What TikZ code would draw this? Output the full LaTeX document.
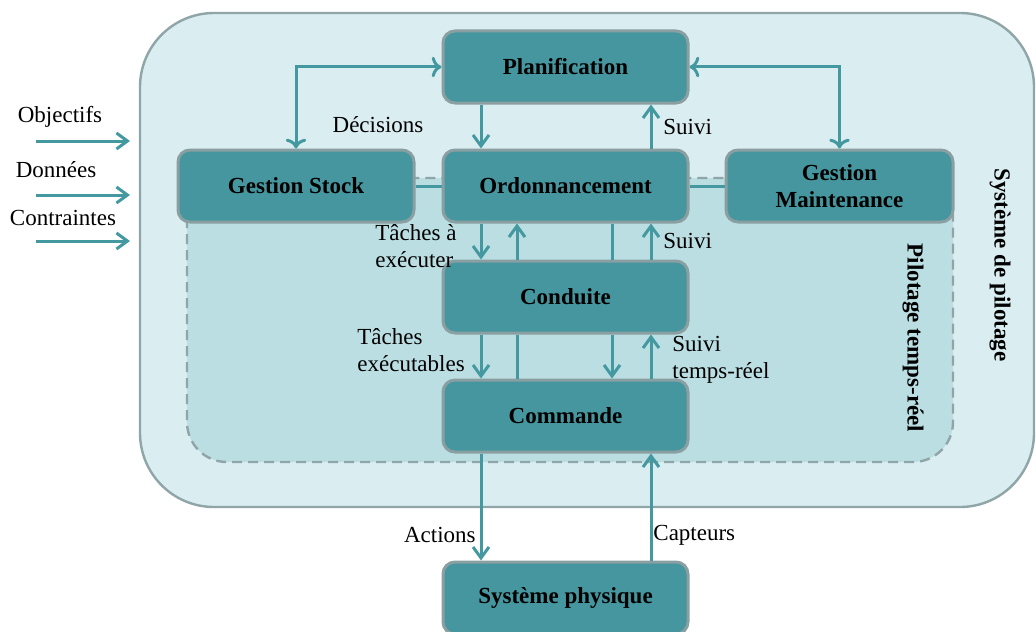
\documentclass[tikz,border=0pt]{standalone}
\usepackage{fontspec}
\setmainfont{Liberation Serif}
\usetikzlibrary{arrows.meta}

\definecolor{boxfill}{HTML}{45969E}
\definecolor{boxline}{HTML}{8A9FA2}
\definecolor{arrowcol}{HTML}{4499A0}
\definecolor{outerfill}{HTML}{DAEDF0}
\definecolor{innerfill}{HTML}{BBDEE2}
\definecolor{frameline}{HTML}{8FA5A8}

\begin{document}
\begin{tikzpicture}[x=0.5pt, y=-0.5pt,
  font=\fontsize{11.5}{13.8}\selectfont,
  block/.style={rectangle, rounded corners=6pt, draw=boxline, line width=1.5pt, fill=boxfill,
    minimum width=122.5pt, minimum height=36pt, align=center, font=\fontsize{11.5}{13.8}\selectfont\bfseries},
  arr/.style={draw=arrowcol, line width=1.5pt, -{Straight Barb[length=5.5pt, width=8pt, line width=1.5pt]}},
  link/.style={draw=arrowcol, line width=1.5pt},
  lbl/.style={inner sep=0pt, align=left}]
  \useasboundingbox (0,0) rectangle (1036,631);
  % cadres
  \draw[frameline, fill=outerfill, line width=1.2pt, rounded corners=37pt] (140,13) rectangle (1034,507);
  \draw[frameline, fill=innerfill, line width=1.2pt, dashed, dash pattern=on 5pt off 3pt, rounded corners=20pt] (187,178) rectangle (953,462);
  % blocs
  \node[block] (plan) at (565.5,67) {Planification};
  \node[block] (ordo) at (565.5,186) {Ordonnancement};
  \node[block, minimum width=118pt] (stock) at (296,186) {Gestion Stock};
  \node[block, minimum width=113.5pt] (maint) at (839.5,186) {Gestion\\Maintenance};
  \node[block] (cond) at (565.5,297) {Conduite};
  \node[block] (cmd) at (565.5,416) {Commande};
  \node[block] (phys) at (565.5,598) {Syst\`eme physique};
  % liaisons
  \draw[arr, <->] (plan.west) -| (stock.north);
  \draw[arr, <->] (plan.east) -| (maint.north);
  \draw[link] (stock.east) -- (ordo.west);
  \draw[link] (ordo.east) -- (maint.west);
  \draw[arr] ([xshift=-42.25pt]plan.south) -- ([xshift=-42.25pt]ordo.north);
  \draw[arr] ([xshift=42.75pt]ordo.north) -- ([xshift=42.75pt]plan.south);
  \draw[arr] ([xshift=-42.25pt]ordo.south) -- ([xshift=-42.25pt]cond.north);
  \draw[arr] ([xshift=-24.25pt]cond.north) -- ([xshift=-24.25pt]ordo.south);
  \draw[link] ([xshift=23.25pt]ordo.south) -- ([xshift=23.25pt]cond.north);
  \draw[arr] ([xshift=42.75pt]cond.north) -- ([xshift=42.75pt]ordo.south);
  \draw[arr] ([xshift=-42.25pt]cond.south) -- ([xshift=-42.25pt]cmd.north);
  \draw[link] ([xshift=-24.25pt]cond.south) -- ([xshift=-24.25pt]cmd.north);
  \draw[arr] ([xshift=23.25pt]cond.south) -- ([xshift=23.25pt]cmd.north);
  \draw[arr] ([xshift=42.75pt]cmd.north) -- ([xshift=42.75pt]cond.south);
  \draw[arr] ([xshift=-42.25pt]cmd.south) -- ([xshift=-42.25pt]phys.north);
  \draw[arr] ([xshift=42.75pt]phys.north) -- ([xshift=42.75pt]cmd.south);
  % entrees
  \coordinate (obj1) at (36,141); \coordinate (obj2) at (130,141);
  \coordinate (don1) at (36,195); \coordinate (don2) at (130,195);
  \coordinate (con1) at (36,241); \coordinate (con2) at (130,241);
  \draw[arr] (obj1) -- (obj2);
  \draw[arr] (don1) -- (don2);
  \draw[arr] (con1) -- (con2);
  \node[lbl] (objlbl) at (60,117) {Objectifs};
  \node[lbl] (donlbl) at (56,170) {Donn\'ees};
  \node[lbl] (conlbl) at (63,218) {Contraintes};
  % etiquettes
  \node[lbl] (dec) at (378,125) {D\'ecisions};
  \node[lbl, anchor=west] (suivi1) at (663,127) {Suivi};
  \node[lbl, anchor=west] (suivi2) at (663,241) {Suivi};
  \node[lbl, anchor=west] (tachex) at (375,246) {T\^aches \`a\\ex\'ecuter};
  \node[lbl, anchor=west] (tachexb) at (357,350) {T\^aches\\ex\'ecutables};
  \node[lbl, anchor=west] (suivitr) at (672,360) {Suivi\\temps-r\'eel};
  \node[lbl, anchor=east] (act) at (476,535) {Actions};
  \node[lbl, anchor=west] (capt) at (653,535) {Capteurs};
  \node[lbl, rotate=-90, font=\fontsize{11.5}{13.8}\selectfont\bfseries] (syspil) at (1000,265) {Syst\`eme de pilotage};
  \node[lbl, rotate=-90, font=\fontsize{11.5}{13.8}\selectfont\bfseries] (piltr) at (913,338) {Pilotage temps-r\'eel};
\end{tikzpicture}
\end{document}
